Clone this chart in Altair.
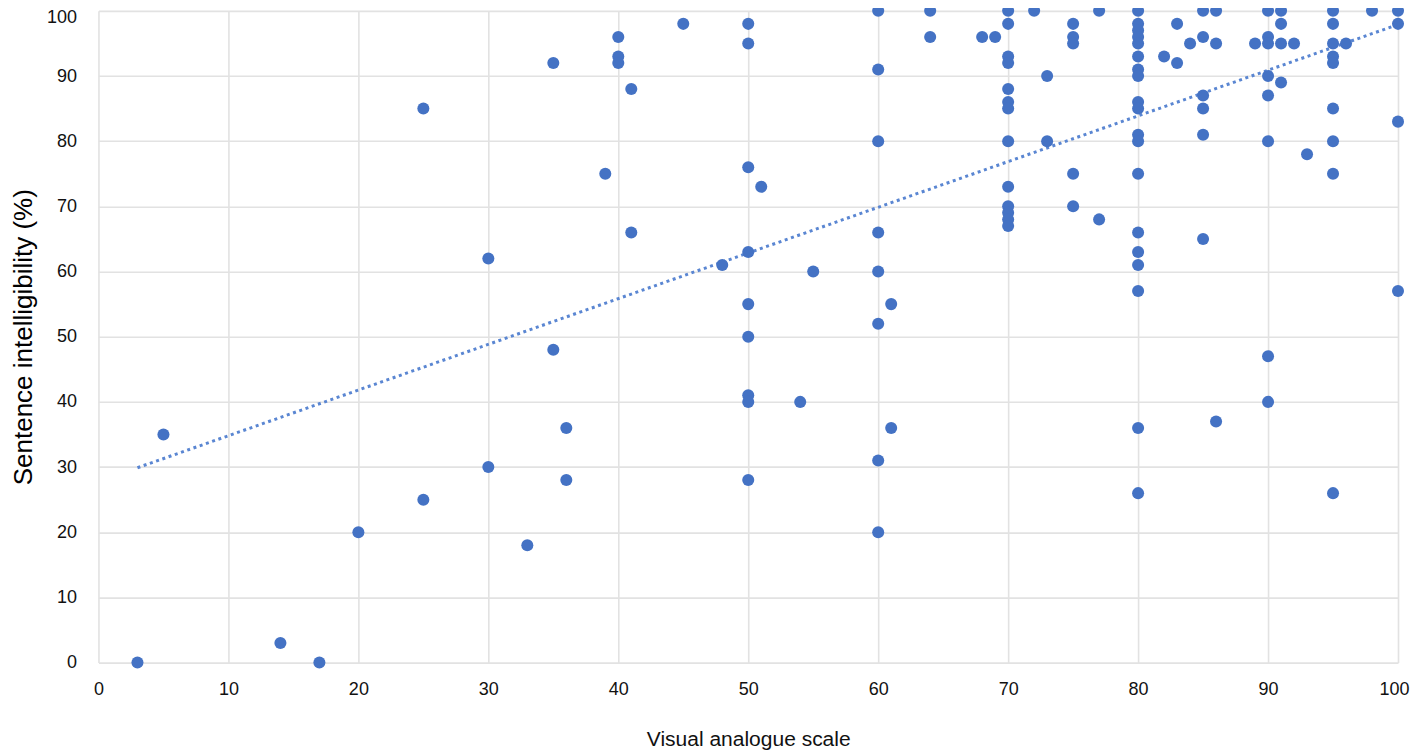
import altair as alt
import pandas as pd

# Visual analogue scale (x) and sentence intelligibility % (y), read column by column
vas = (
    [3, 5, 14, 17, 20, 25, 25, 30, 30, 33, 35, 35, 36, 36, 39, 40, 40, 40, 41, 41, 45, 48]
    + [50] * 9 + [51, 54, 55]
    + [60] * 8 + [61, 61, 64, 64, 68, 69]
    + [70] * 13 + [72, 73, 73]
    + [75] * 5 + [77, 77]
    + [80] * 19 + [82, 83, 83, 84]
    + [85] * 6 + [86] * 3 + [89]
    + [90] * 8 + [91] * 4 + [92, 93]
    + [95] * 9 + [96, 98]
    + [100] * 4
)
intel = (
    [0, 35, 3, 0, 20, 85, 25, 62, 30, 18, 92, 48, 36, 28, 75, 96, 93, 92, 88, 66, 98, 61]
    + [98, 95, 76, 63, 55, 50, 41, 40, 28] + [73, 40, 60]
    + [100, 91, 80, 66, 60, 52, 31, 20] + [55, 36, 100, 96, 96, 96]
    + [100, 98, 93, 92, 88, 86, 85, 80, 73, 70, 69, 68, 67] + [100, 90, 80]
    + [98, 96, 95, 75, 70] + [100, 68]
    + [100, 98, 97, 96, 95, 93, 91, 90, 86, 85, 81, 80, 75, 66, 63, 61, 57, 36, 26]
    + [93, 98, 92, 95]
    + [100, 96, 87, 85, 81, 65] + [100, 95, 37] + [95]
    + [100, 96, 95, 90, 87, 80, 47, 40] + [100, 98, 95, 89] + [95, 78]
    + [100, 98, 95, 93, 92, 85, 80, 75, 26] + [95, 100]
    + [100, 98, 83, 57]
)
# Linear trend line as drawn in the figure (end values)
trend_vas = [3, 100]
trend_intel = [29.9, 97.9]

ticks = list(range(0, 101, 10))

df = pd.DataFrame({"vas": vas, "intel": intel})
df_trend = pd.DataFrame({"vas": trend_vas, "intel": trend_intel})

FONT = "Liberation Sans"

xenc = alt.X(
    "vas:Q",
    scale=alt.Scale(domain=[0, 100], nice=False, zero=False),
    axis=alt.Axis(
        values=ticks,
        title="Visual analogue scale",
        titleFontSize=21,
        titleFontWeight="normal",
        titleColor="#111111",
        titleX=650,
        titleY=77,
        titleBaseline="middle",
        titleAlign="center",
        labelFontSize=18,
        labelColor="#111111",
        labelPadding=18,
        labelFlush=False,
        labelOffset=alt.condition("datum.value == 100", alt.value(-4), alt.value(0)),
    ),
)
yenc = alt.Y(
    "intel:Q",
    scale=alt.Scale(domain=[0, 100], nice=False, zero=False),
    axis=alt.Axis(
        values=ticks,
        title="Sentence intelligibility (%)",
        titleFontSize=26,
        titleFontWeight="normal",
        titleColor="#000000",
        titleAngle=-90,
        titleX=-75,
        titleY=326,
        titleBaseline="middle",
        titleAlign="center",
        labelFontSize=18,
        labelColor="#111111",
        labelPadding=22,
        labelFlush=False,
        labelOffset=alt.condition("datum.value == 100", alt.value(7), alt.value(0)),
    ),
)

points = alt.Chart(df).mark_circle(size=145, color="#4472c4", opacity=1).encode(x=xenc, y=yenc)

trend = (
    alt.Chart(df_trend)
    .mark_line(color="#5a86d2", strokeWidth=3, strokeDash=[3, 3.6])
    .encode(x="vas:Q", y="intel:Q")
)

chart = (
    alt.layer(trend, points)
    .properties(
        width=1300,
        height=652,
        autosize=alt.AutoSizeParams(type="none"),
        padding={"left": 90.5, "top": 2.7, "right": 12, "bottom": 90},
    )
    .configure(font=FONT)
    .configure_view(stroke=None)
    .configure_axis(
        labelFont=FONT,
        titleFont=FONT,
        grid=True,
        gridColor="#e2e2e2",
        gridWidth=1.6,
        domain=False,
        ticks=False,
    )
)

chart.save("out.html", embed_options={"renderer": "svg", "actions": False})
